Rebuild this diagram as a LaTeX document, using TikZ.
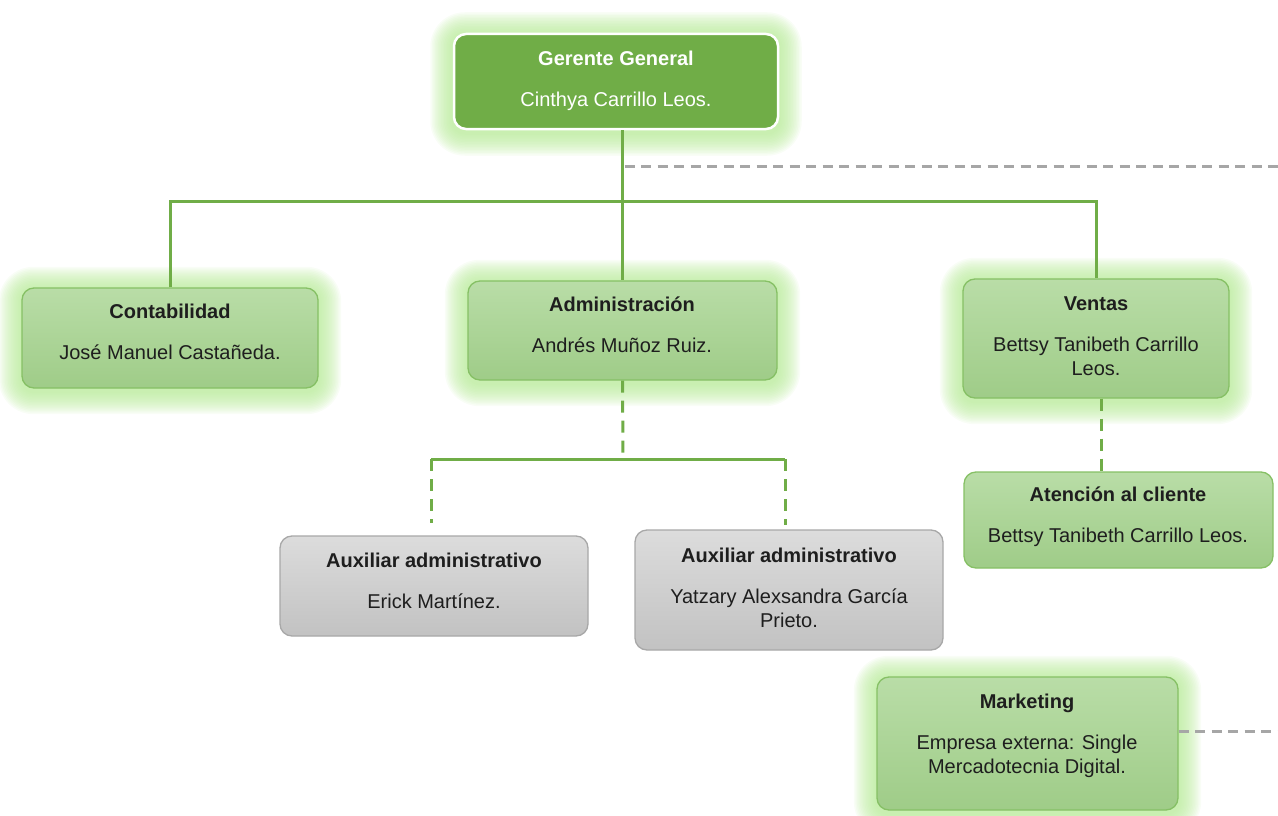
\documentclass[tikz,border=0pt]{standalone}
\usepackage{fontspec}
\setmainfont{Liberation Sans}
\usetikzlibrary{calc,backgrounds}
\definecolor{topfill}{HTML}{70AD47}
\definecolor{linkgreen}{HTML}{70AD47}
\definecolor{boxline}{HTML}{86C065}
\definecolor{boxtopc}{HTML}{B9DDA7}
\definecolor{boxbotc}{HTML}{9FCC88}
\definecolor{greytopc}{HTML}{DCDCDC}
\definecolor{greybotc}{HTML}{C2C2C2}
\definecolor{greyline}{HTML}{A8A8A8}
\definecolor{glowc}{HTML}{B6EA96}
\definecolor{extdash}{HTML}{A6A6A6}
\definecolor{txt}{HTML}{1E1E1E}
\tikzset{
  unitbox/.style={inner sep=0pt, rounded corners=12pt},
  topbox/.style={unitbox, draw=white, line width=2.5pt, fill=topfill},
  greenbox/.style={unitbox, draw=boxline, line width=1.3pt, top color=boxtopc, bottom color=boxbotc},
  greybox/.style={unitbox, draw=greyline, line width=1.3pt, top color=greytopc, bottom color=greybotc},
  lbl/.style={align=center, inner sep=0pt, font=\fontsize{20}{24}\selectfont, text=txt},
  link/.style={draw=linkgreen, line width=3pt},
  linkdash/.style={link, dash pattern=on 12pt off 8pt},
  outerdash/.style={draw=extdash, line width=3pt, dash pattern=on 10pt off 6.5pt},
}
% soft halo behind a box
\newcommand\halo[1]{%
  \foreach \k in {1.5,3,...,22.5} {
    \pgfmathsetmacro\rr{12+\k}
    \fill[glowc, fill opacity=0.085, rounded corners=\rr pt]
      ([shift={(-\k pt,-\k pt-3pt)}]#1.south west) rectangle ([shift={(\k pt,\k pt-2pt)}]#1.north east);
  }%
}
\begin{document}
\begin{tikzpicture}[x=1pt,y=-1pt]
\useasboundingbox (0,0) rectangle (1278,816);

% boxes
\node[topbox, minimum width=324pt, minimum height=95pt] (ger) at (616,81.5) {};
\node[greenbox, minimum width=296pt, minimum height=100pt] (cont) at (170,338) {};
\node[greenbox, minimum width=309pt, minimum height=99pt] (adm) at (622.5,330.5) {};
\node[greenbox, minimum width=266pt, minimum height=119pt] (ven) at (1096,338.5) {};
\node[greybox, minimum width=308pt, minimum height=100pt] (aux1) at (434,586) {};
\node[greybox, minimum width=308pt, minimum height=120pt] (aux2) at (789,590) {};
\node[greenbox, minimum width=309pt, minimum height=96pt] (ate) at (1118.5,520) {};
\node[greenbox, minimum width=301pt, minimum height=133pt] (mkt) at (1027.5,743.5) {};

\begin{pgfonlayer}{background}
  \halo{ger}\halo{cont}\halo{adm}\halo{ven}\halo{mkt}
\end{pgfonlayer}

% texts
\node[lbl, text=white] (tger) at (616,80.5) {\textbf{Gerente General}\\[17pt]Cinthya Carrillo Leos.};
\node[lbl] (tcont) at (170,331.5) {\textbf{Contabilidad}\\[17pt]José Manuel Castañeda.};
\node[lbl] (tadm) at (622,325) {\textbf{Administración}\\[17pt]Andrés Muñoz Ruiz.};
\node[lbl] (tven) at (1096,336.5) {\textbf{Ventas}\\[17pt]Bettsy Tanibeth Carrillo\\Leos.};
\node[lbl] (taux1) at (434,581) {\textbf{Auxiliar administrativo}\\[17pt]Erick Martínez.};
\node[lbl] (taux2) at (789,587.5) {\textbf{Auxiliar administrativo}\\[17pt]Yatzary Alexsandra García\\Prieto.};
\node[lbl] (tate) at (1118,516.5) {\textbf{Atención al cliente}\\[17pt]Bettsy Tanibeth Carrillo Leos.};
\node[lbl] (tmkt) at (1027,735.5) {\textbf{Marketing}\\[17pt]Empresa externa: Single\\Mercadotecnia Digital.};

% junction points
\coordinate (bar) at (623,201);
\coordinate (ext1) at (1278,166);
\coordinate (ext2) at (1278,731);
\coordinate (aj) at (623,459);
\coordinate (al) at (431,459);
\coordinate (ar) at (785,459);
\coordinate (al2) at (431,523);
\coordinate (ar2) at (785,525);
\coordinate (vx) at (1101,430);

% connectors
\draw[outerdash] (ext1 -| adm.north) ++(2,0) -- (ext1);
\draw[link] (ger.south -| adm.north) -- (adm.north);
\draw[link] (cont.north) |- (bar) -| (ven.north);
\draw[linkdash] (adm.south) -- (aj);
\draw[link] (al) -- (ar);
\draw[linkdash] (al) -- (al2);
\draw[linkdash] (ar) -- (ar2);
\draw[linkdash] (ven.south -| vx) -- (ate.north -| vx);
\draw[outerdash] (mkt.east |- ext2) -- (ext2);
\end{tikzpicture}
\end{document}
